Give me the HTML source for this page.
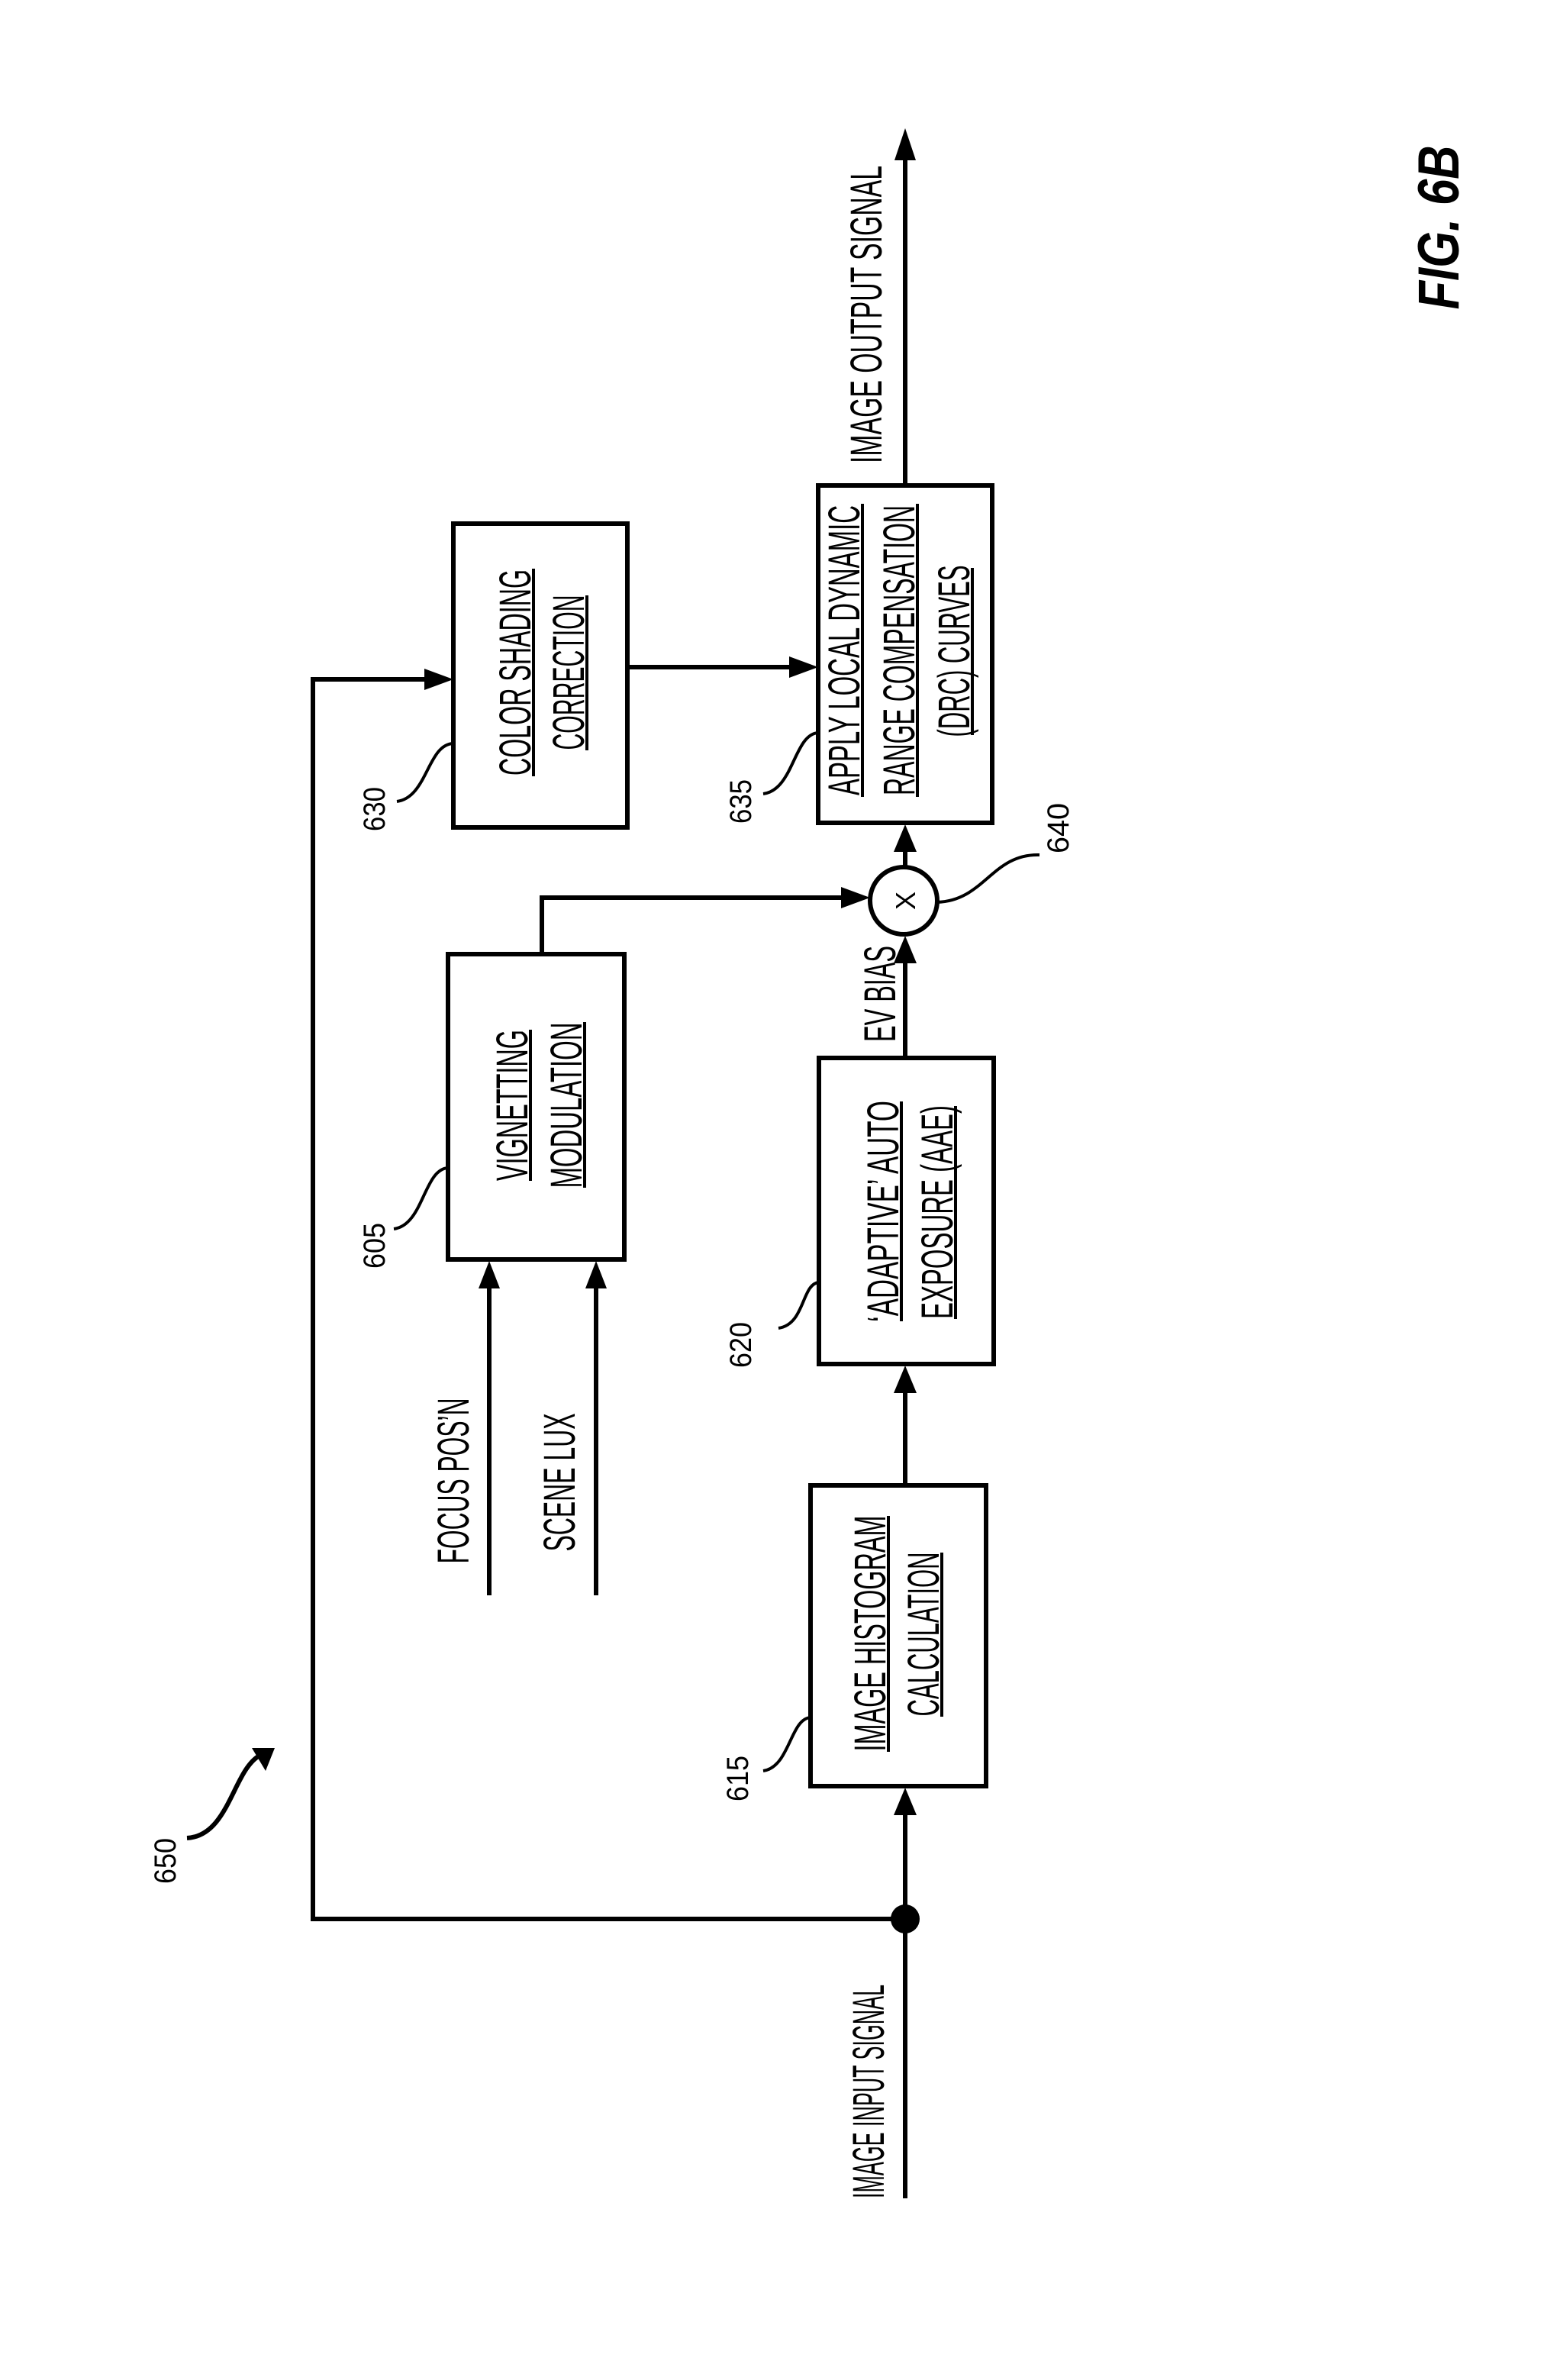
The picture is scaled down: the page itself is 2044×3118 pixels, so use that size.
<!DOCTYPE html>
<html><head><meta charset="utf-8"><style>
html,body{margin:0;padding:0;background:#fff}
svg{display:block}
text{font-family:"Liberation Sans Narrow","Liberation Sans",sans-serif;fill:#000}
</style></head><body>
<svg width="2044" height="3118" viewBox="0 0 2044 3118" xmlns="http://www.w3.org/2000/svg">
<g fill="none" stroke="#000" stroke-width="6">
<rect x="594" y="686" width="228" height="398"/>
<rect x="1072" y="636" width="228" height="442"/>
<rect x="587" y="1250" width="231" height="400"/>
<rect x="1073" y="1386" width="229" height="401"/>
<rect x="1062" y="1946" width="230" height="394"/>
<circle cx="1184" cy="1180" r="44"/>
<line x1="1186" y1="2880" x2="1186" y2="2372"/>
<line x1="1186" y1="1946" x2="1186" y2="1818"/>
<line x1="1186" y1="1386" x2="1186" y2="1256"/>
<line x1="1186" y1="1136" x2="1186" y2="1110"/>
<line x1="1186" y1="636" x2="1186" y2="205"/>
<polyline points="1186,2514 410,2514 410,890 560,890"/>
<line x1="822" y1="874" x2="1040" y2="874"/>
<polyline points="710,1250 710,1176 1106,1176"/>
<line x1="641" y1="2090" x2="641" y2="1685"/>
<line x1="781" y1="2090" x2="781" y2="1685"/>
<path d="M520,1050 C560,1045 560,975 594,974" stroke-width="4"/>
<path d="M1000,1040 C1040,1035 1040,962 1072,960" stroke-width="4"/>
<path d="M516,1610 C555,1605 555,1532 587,1530" stroke-width="4"/>
<path d="M1020,1740 C1055,1735 1050,1682 1073,1680" stroke-width="4"/>
<path d="M1000,2320 C1035,2315 1035,2252 1062,2250" stroke-width="4"/>
<path d="M1228,1182 C1290,1180 1300,1118 1362,1120" stroke-width="4"/>
<path d="M245,2408 C300,2405 305,2320 340,2300" stroke-width="6"/>
</g>
<g fill="#000">
<circle cx="1186" cy="2514" r="19"/>
<polygon points="1186,168 1172,210 1200,210"/>
<polygon points="1186,2342 1171,2378 1201,2378"/>
<polygon points="1186,1789 1171,1825 1201,1825"/>
<polygon points="1186,1226 1171,1262 1201,1262"/>
<polygon points="1186,1080 1171,1116 1201,1116"/>
<polygon points="594,890 556,876 556,904"/>
<polygon points="1072,874 1034,860 1034,888"/>
<polygon points="1140,1176 1102,1162 1102,1190"/>
<polygon points="641,1652 627,1688 655,1688"/>
<polygon points="781,1652 767,1688 795,1688"/>
<polygon points="360,2290 330,2290 348,2320"/>
</g>
<g stroke="#000" stroke-width="4">
<line x1="699" y1="745" x2="699" y2="1017"/>
<line x1="769" y1="780" x2="769" y2="983"/>
<line x1="1130" y1="660" x2="1130" y2="1044"/>
<line x1="1202" y1="660" x2="1202" y2="1044"/>
<line x1="1274" y1="744" x2="1274" y2="963"/>
<line x1="695" y1="1349" x2="695" y2="1547"/>
<line x1="766" y1="1339" x2="766" y2="1556"/>
<line x1="1181" y1="1443" x2="1181" y2="1731"/>
<line x1="1252" y1="1449" x2="1252" y2="1728"/>
<line x1="1164" y1="1986" x2="1164" y2="2295"/>
<line x1="1234" y1="2034" x2="1234" y2="2249"/>
</g>
<g font-size="58" text-anchor="middle">
<text transform="translate(695,881) rotate(-90)" textLength="270" lengthAdjust="spacingAndGlyphs">COLOR SHADING</text>
<text transform="translate(765,881) rotate(-90)" textLength="203" lengthAdjust="spacingAndGlyphs">CORRECTION</text>
<text transform="translate(1126,852) rotate(-90)" textLength="380" lengthAdjust="spacingAndGlyphs">APPLY LOCAL DYNAMIC</text>
<text transform="translate(1198,852) rotate(-90)" textLength="380" lengthAdjust="spacingAndGlyphs">RANGE COMPENSATION</text>
<text transform="translate(1270,853) rotate(-90)" textLength="225" lengthAdjust="spacingAndGlyphs">(DRC) CURVES</text>
<text transform="translate(691,1448) rotate(-90)" textLength="198" lengthAdjust="spacingAndGlyphs">VIGNETTING</text>
<text transform="translate(762,1448) rotate(-90)" textLength="217" lengthAdjust="spacingAndGlyphs">MODULATION</text>
<text transform="translate(1177,1587) rotate(-90)" textLength="290" lengthAdjust="spacingAndGlyphs">‘ADAPTIVE’ AUTO</text>
<text transform="translate(1248,1588) rotate(-90)" textLength="280" lengthAdjust="spacingAndGlyphs">EXPOSURE (AAE)</text>
<text transform="translate(1160,2140) rotate(-90)" textLength="309" lengthAdjust="spacingAndGlyphs">IMAGE HISTOGRAM</text>
<text transform="translate(1230,2141) rotate(-90)" textLength="215" lengthAdjust="spacingAndGlyphs">CALCULATION</text>
<text transform="translate(1155,412) rotate(-90)" textLength="390" lengthAdjust="spacingAndGlyphs">IMAGE OUTPUT SIGNAL</text>
<text transform="translate(1158,2740) rotate(-90)" textLength="280" lengthAdjust="spacingAndGlyphs">IMAGE INPUT SIGNAL</text>
<text transform="translate(1173,1302) rotate(-90)" textLength="126" lengthAdjust="spacingAndGlyphs">EV BIAS</text>
<text transform="translate(614,1940) rotate(-90)" textLength="217" lengthAdjust="spacingAndGlyphs">FOCUS POS’N</text>
<text transform="translate(753,1942) rotate(-90)" textLength="181" lengthAdjust="spacingAndGlyphs">SCENE LUX</text>
</g>
<g font-size="40" text-anchor="middle">
<text transform="translate(1199,1180) rotate(-90)" font-size="36">X</text>
<text transform="translate(504,1060) rotate(-90)" textLength="58" lengthAdjust="spacingAndGlyphs">630</text>
<text transform="translate(984,1050) rotate(-90)" textLength="58" lengthAdjust="spacingAndGlyphs">635</text>
<text transform="translate(504,1632) rotate(-90)" textLength="60" lengthAdjust="spacingAndGlyphs">605</text>
<text transform="translate(984,1762) rotate(-90)" textLength="60" lengthAdjust="spacingAndGlyphs">620</text>
<text transform="translate(980,2330) rotate(-90)" textLength="60" lengthAdjust="spacingAndGlyphs">615</text>
<text transform="translate(1400,1085) rotate(-90)" textLength="66" lengthAdjust="spacingAndGlyphs">640</text>
<text transform="translate(230,2438) rotate(-90)" textLength="60" lengthAdjust="spacingAndGlyphs">650</text>
</g>
<text transform="translate(1911,298) rotate(-90)" font-size="76" font-weight="bold" font-style="italic" text-anchor="middle" style="font-family:'Liberation Sans',sans-serif" textLength="215" lengthAdjust="spacingAndGlyphs">FIG. 6B</text>
</svg>
</body></html>
